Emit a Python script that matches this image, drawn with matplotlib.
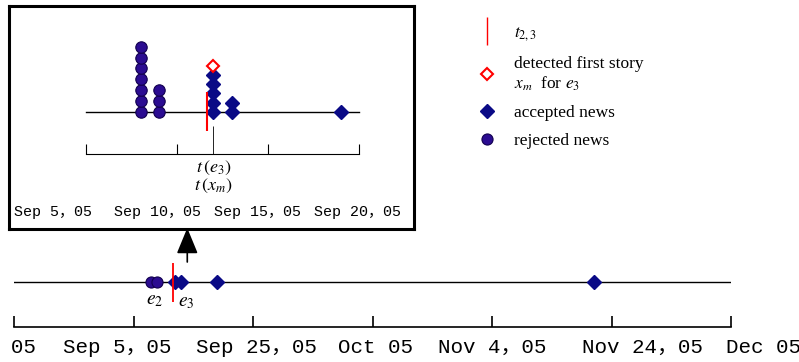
import matplotlib.pyplot as plt
import matplotlib.dates as mdates
import numpy as np
from matplotlib.lines import Line2D

plt.rcParams['mathtext.fontset'] = 'stix'

# data
rejected_dates = ['2005-09-08', '2005-09-09']
rejected_counts = [7, 3]
accepted_dates = ['2005-09-12', '2005-09-13', '2005-09-19', '2005-11-21']
accepted_counts = [5, 2, 1, 1]
first_story_date = '2005-09-12'
t23_date = '2005-09-11 15:00'
arrow_date = '2005-09-14'
main_ticks = ['2005-08-16', '2005-09-05', '2005-09-25', '2005-10-15',
              '2005-11-04', '2005-11-24', '2005-12-14']
main_labels = ['Aug 16，05', 'Sep 5，05', 'Sep 25，05', 'Oct 05',
               'Nov 4，05', 'Nov 24，05', 'Dec 05']
inset_ticks = ['2005-09-05', '2005-09-10', '2005-09-15', '2005-09-20']
inset_labels = ['Sep 5，05', 'Sep 10，05', 'Sep 15，05', 'Sep 20，05']

mono = ['Liberation Mono', 'Noto Sans CJK SC']
circ_fc, circ_ec = '#2B0C91', '#12004f'
dia_c = '#0A0A86'

W, H = 799, 362


def d(s):
    return mdates.datestr2num(s)


def box(l, t, r, b):
    return [l / W, 1 - b / H, (r - l) / W, (b - t) / H]


fig = plt.figure(figsize=(W / 100, H / 100), dpi=100)

# ---- overview timeline ----
ax = fig.add_axes(box(14, 220, 731, 327))
ax.patch.set_alpha(0)
ax.set_xlim(d(main_ticks[0]), d(main_ticks[-1]))
ax.set_ylim(-45, 62)
for s in ['top', 'left', 'right']:
    ax.spines[s].set_visible(False)
ax.spines['bottom'].set_linewidth(1.2)
ax.set_yticks([])
ax.set_xticks([d(t) for t in main_ticks])
ax.set_xticklabels([])
ax.tick_params(axis='x', direction='in', length=8, width=1.2)
ax.axhline(0, color='black', lw=1)

ax.plot([d(t) for t in rejected_dates], np.zeros(len(rejected_dates)), 'o',
        ms=8, mfc=circ_fc, mec=circ_ec, mew=0.8, clip_on=False)
ax.plot([d(t) for t in accepted_dates], np.zeros(len(accepted_dates)), 'D',
        ms=7, color=dia_c, clip_on=False)
ax.vlines(d(t23_date), -20, 19, color='red', lw=1.3)
ax.annotate('', xy=(d(arrow_date), 54), xytext=(d(arrow_date), 20),
            arrowprops=dict(arrowstyle='-|>,head_length=0.8,head_width=0.33',
                            mutation_scale=20, color='black', lw=1.2,
                            shrinkA=0, shrinkB=0))
ax.text(d('2005-09-08 12:00'), -18, '$e_2$', ha='center', va='center', fontsize=14)
ax.text(d('2005-09-13 18:00'), -20, '$e_3$', ha='center', va='center', fontsize=14)

label_px = [36, 117, 256, 375, 492, 642, 726]
label_ha = ['right', 'center', 'center', 'center', 'center', 'center', 'left']
for lab, px, ha in zip(main_labels, label_px, label_ha):
    ax.text((px - 14) / 717, -0.187, lab, transform=ax.transAxes, ha=ha,
            va='center', fontsize=15, family=mono, clip_on=False)

# ---- zoomed inset ----
ins = fig.add_axes(box(9, 6, 414, 229))
ins.set_xlim(d(inset_ticks[0]) - 77 / 18.2, d(inset_ticks[0]) + 328 / 18.2)
ins.set_ylim(-117, 106)
ins.set_xticks([])
ins.set_yticks([])
for s in ins.spines.values():
    s.set_linewidth(2.2)
ins.plot([d(inset_ticks[0]), d(inset_ticks[-1])], [0, 0], color='black', lw=1)
for t, n in zip(rejected_dates, rejected_counts):
    ins.plot([d(t)] * n, np.arange(n) * 10.9, 'o', ms=8.2,
             mfc=circ_fc, mec=circ_ec, mew=0.8)
for t, n in zip(accepted_dates, accepted_counts):
    ins.plot([d(t)] * n, np.arange(n) * 9.3, 'D', ms=7.5, color=dia_c)
fs_n = accepted_counts[accepted_dates.index(first_story_date)]
ins.plot(d(first_story_date), fs_n * 9.3, 'D', ms=6.5, mfc='white',
         mec='red', mew=1.5)
ins.vlines(d(t23_date), -19, 20, color='red', lw=1.5)

for lab, px in zip(inset_labels, [53, 157, 257, 357]):
    ins.text((px - 9) / 405, 0.076, lab, transform=ins.transAxes, ha='center',
             va='center', fontsize=10.8, family=mono)

# inset scale
sc = fig.add_axes(box(86, 120, 359, 154))
sc.patch.set_alpha(0)
sc.set_xlim(d(inset_ticks[0]), d(inset_ticks[-1]))
for s in ['top', 'left', 'right']:
    sc.spines[s].set_visible(False)
sc.set_yticks([])
sc.set_xticks([d(t) for t in inset_ticks])
sc.set_xticklabels([])
sc.set_xticks([d(first_story_date)], minor=True)
sc.set_xticklabels([''], minor=True)
sc.tick_params(axis='x', which='major', direction='in', length=7)
sc.tick_params(axis='x', which='minor', direction='in', length=20)
tr = sc.get_xaxis_transform()
sc.text(d(first_story_date), -0.41, r'$t\,(e_3)$', transform=tr, ha='center',
        va='center', fontsize=13)
sc.text(d(first_story_date), -0.93, r'$t\,(x_m)$', transform=tr, ha='center',
        va='center', fontsize=13)

# ---- legend ----
handles = [
    Line2D([], [], ls='none', marker='|', ms=20, mec='red', mew=1),
    Line2D([], [], ls='none', marker='D', ms=6, mfc='white', mec='red', mew=1.5),
    Line2D([], [], ls='none', marker='D', ms=7, color=dia_c),
    Line2D([], [], ls='none', marker='o', ms=8, mfc=circ_fc, mec=circ_ec, mew=0.8),
]
labels = ['$t_{2,3}$', 'detected first story\n$x_m$  for $e_3$',
          'accepted news', 'rejected news']
fig.legend(handles, labels, loc='upper left', bbox_to_anchor=(478 / W, 1 - 25 / H),
           frameon=False, prop={'family': 'Liberation Serif', 'size': 12.5},
           handlelength=1.0, handletextpad=1.1, borderpad=0, borderaxespad=0,
           labelspacing=0.7)

fig.savefig('out.png', dpi=100)
